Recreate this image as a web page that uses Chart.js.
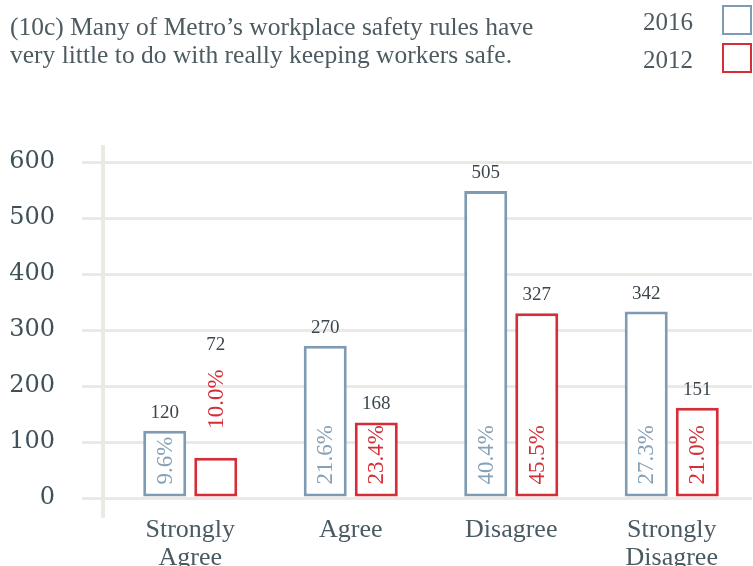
<!DOCTYPE html>
<html>
<head>
<meta charset="utf-8">
<script src="https://cdn.jsdelivr.net/npm/chart.js@4.4.0/dist/chart.umd.min.js"></script>
<style>
  html, body { margin: 0; padding: 0; background: #fff; }
  #wrap { position: relative; width: 753px; height: 566px; overflow: hidden; }
  #title { position: absolute; left: 10px; top: 13px; font: 25.5px "Liberation Serif", serif; line-height: 28px; color: #4d5b61; }
  .leg { position: absolute; left: 600px; width: 152px; height: 30px; font: 25px "Liberation Serif", serif; color: #4d5b61; }
  .leg span { position: absolute; right: 59px; top: 2px; line-height: 30px; }
  .leg i { position: absolute; right: 0; top: 0; width: 26px; height: 26px; border: 2px solid; }
</style>
</head>
<body>
<div id="wrap">
  <canvas id="myChart" width="753" height="566"></canvas>
  <div id="title">(10c) Many of Metro’s workplace safety rules have<br>very little to do with really keeping workers safe.</div>
  <div class="leg" style="top:5px"><span>2016</span><i style="border-color:#7f9bb3"></i></div>
  <div class="leg" style="top:43px"><span>2012</span><i style="border-color:#d42f38"></i></div>
</div>
<script>
// values (bar heights) and the printed labels
const categories = [['Strongly', 'Agree'], 'Agree', 'Disagree', ['Strongly', 'Disagree']];
const heights2016 = [120, 272, 548, 333];
const heights2012 = [72, 135, 330, 161];
const counts2016 = ['120', '270', '505', '342'];
const counts2012 = ['72', '168', '327', '151'];
const pct2016 = ['9.6%', '21.6%', '40.4%', '27.3%'];
const pct2012 = ['10.0%', '23.4%', '45.5%', '21.0%'];
const yTicks = [0, 100, 200, 300, 400, 500, 600];

const blue = '#7f9bb3';
const red = '#d42f38';
const gridCol = '#ebe9e3';
const serif = '"Liberation Serif", serif';

// vertical axis line, a bit left of the plot
const axisLine = {
  id: 'axisLine',
  beforeDatasetsDraw(chart) {
    const c = chart.ctx, a = chart.chartArea;
    c.save();
    c.strokeStyle = gridCol;
    c.lineWidth = 4;
    c.beginPath();
    c.moveTo(a.left - 7, a.top - 17);
    c.lineTo(a.left - 7, a.bottom + 20);
    c.stroke();
    c.restore();
  }
};

// counts above bars, rotated percents inside bars (or above if too short)
const barLabels = {
  id: 'barLabels',
  afterDatasetsDraw(chart) {
    const c = chart.ctx;
    const sets = [[counts2016, pct2016, '#86a0b6'], [counts2012, pct2012, red]];
    sets.forEach((s, di) => {
      chart.getDatasetMeta(di).data.forEach((bar, i) => {
        c.save();
        c.font = '23px ' + serif;
        const w = c.measureText(s[1][i]).width;
        const h = bar.base - bar.y;
        let countY;
        c.fillStyle = s[2];
        c.translate(bar.x, 0);
        c.rotate(-Math.PI / 2);
        c.textBaseline = 'middle';
        c.textAlign = 'left';
        if (w + 12 < h) {
          c.fillText(s[1][i], -(bar.base - 12), 1);
          countY = bar.y - 18;
        } else {
          c.fillText(s[1][i], -(bar.y - 29), 1);
          countY = bar.y - 29 - w - 24;
        }
        c.restore();
        c.save();
        c.font = '19px ' + serif;
        c.fillStyle = '#3b474c';
        c.textAlign = 'center';
        c.textBaseline = 'middle';
        c.fillText(s[0][i], bar.x, countY);
        c.restore();
      });
    });
  }
};

const ctx = document.getElementById('myChart');
new Chart(ctx, {
  type: 'bar',
  data: {
    labels: categories,
    datasets: [
      { label: '2016', data: heights2016, backgroundColor: '#fff', borderColor: blue, borderWidth: 3, borderSkipped: false },
      { label: '2012', data: heights2012, backgroundColor: '#fff', borderColor: red, borderWidth: 3, borderSkipped: false }
    ]
  },
  options: {
    responsive: false,
    animation: false,
    events: [],
    categoryPercentage: 0.636,
    barPercentage: 0.843,
    layout: { padding: { top: 162, right: 1, left: 0, bottom: 0 } },
    plugins: { legend: { display: false }, tooltip: { enabled: false } },
    scales: {
      x: {
        grid: { display: false },
        border: { display: false },
        ticks: { color: '#4a5a62', font: { family: serif, size: 26, lineHeight: '28px' }, padding: 10 },
        afterFit(s) { s.height = 566 - 498; }
      },
      y: {
        min: 0,
        max: 600,
        afterBuildTicks(s) { s.ticks = yTicks.map(v => ({ value: v })); },
        grid: { color: gridCol, lineWidth: 3, tickLength: 28 },
        border: { display: false },
        ticks: { color: '#3f5158', font: { family: '"DejaVu Serif", serif', size: 24 }, padding: 27 },
        afterFit(s) { s.width = 110; }
      }
    }
  },
  plugins: [axisLine, barLabels]
});
</script>
</body>
</html>
